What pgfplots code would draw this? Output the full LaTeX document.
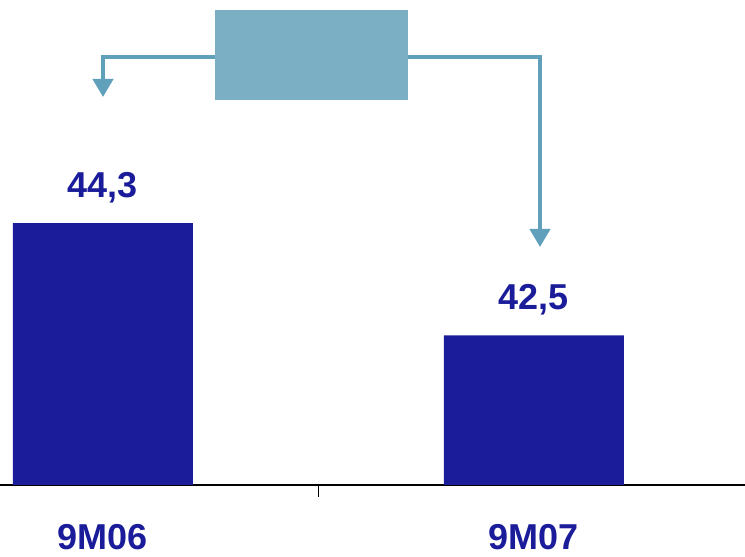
\documentclass[border=0pt]{standalone}
\usepackage{pgfplots}
\pgfplotsset{compat=1.18}
\usepackage{fontspec}
\setmainfont{Liberation Sans}
\usetikzlibrary{arrows.meta}
\definecolor{barblue}{RGB}{26,28,154}
\definecolor{boxblue}{RGB}{123,175,196}
\definecolor{arrowblue}{RGB}{96,160,186}
\begin{document}
\begin{tikzpicture}
\begin{axis}[
  at={(0,0)}, anchor=south west,
  scale only axis, width=372.5pt, height=242.5pt,
  xmin=-0.239, xmax=1.49, ymin=40.1, ymax=47.88,
  axis x line*=bottom, axis y line=none,
  x axis line style={line width=0.6pt},
  xtick={0,1}, xticklabels={9M06,9M07},
  major tick length=0pt,
  extra x ticks={0.5}, extra x tick labels={},
  extra x tick style={major tick length=6pt, tick align=outside, tick style={line width=0.5pt, black}},
  xticklabel style={font=\fontsize{18}{20}\selectfont\bfseries, text=barblue, anchor=north, inner sep=0pt, yshift=-19.5pt},
  ybar, bar width=90pt,
  nodes near coords,
  /pgf/number format/.cd, use comma, fixed, fixed zerofill, precision=1, assume math mode=true,
  /pgfplots/.cd,
  every node near coord/.append style={font=\fontsize{18}{20}\selectfont\bfseries, text=barblue, anchor=south, inner sep=0pt, yshift=10pt},
  clip=false,
]
\addplot[fill=barblue, draw=none] coordinates {(0,44.3) (1,42.5)};
\end{axis}
\draw[arrowblue, line width=2pt, -{Triangle[width=10pt,length=9pt]}] (107.5pt,214pt) -- (51.5pt,214pt) -- (51.5pt,194pt);
\draw[arrowblue, line width=2pt, -{Triangle[width=10pt,length=9pt]}] (204pt,214pt) -- (270pt,214pt) -- (270pt,119pt);
\fill[boxblue] (107.5pt,192.5pt) rectangle (204pt,237.5pt);
\pgfresetboundingbox
\path (0,-36pt) rectangle (372.5pt,242.5pt);
\end{tikzpicture}
\end{document}
